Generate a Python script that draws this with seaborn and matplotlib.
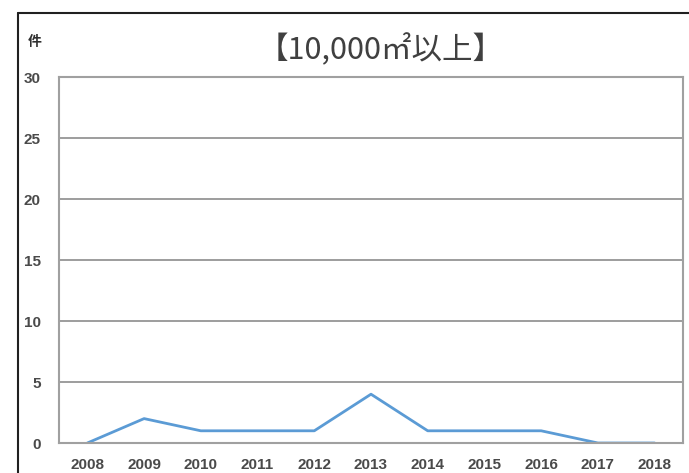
import pandas as pd
import matplotlib.pyplot as plt
import seaborn as sns
from matplotlib.lines import Line2D

# data
years = ["2008", "2009", "2010", "2011", "2012", "2013", "2014", "2015", "2016", "2017", "2018"]
counts = [0, 2, 1, 1, 1, 4, 1, 1, 1, 0, 0]
y_ticks = [0, 5, 10, 15, 20, 25, 30]

df = pd.DataFrame({"year": years, "count": counts})

sns.set_style("white")
plt.rcParams["font.family"] = ["Noto Sans CJK JP", "DejaVu Sans"]

fig = plt.figure(figsize=(6.89, 4.73), dpi=100)
ax = fig.add_axes([59 / 689, 30 / 473, 624 / 689, 366 / 473])

sns.lineplot(data=df, x="year", y="count", ax=ax, color="#5B9BD5", linewidth=2.0,
             sort=False, clip_on=True)

ax.set_xlim(-0.5, len(years) - 0.5)
ax.set_ylim(0, 30)
ax.set_yticks(y_ticks)
ax.yaxis.grid(True, color="#8c8c8c", linewidth=1.2)
ax.set_axisbelow(True)
for s in ax.spines.values():
    s.set_color("#a0a0a0")
    s.set_linewidth(1.5)
ax.tick_params(length=0)
ax.tick_params(axis="x", pad=11)
ax.tick_params(axis="y", pad=13)
for lab in ax.get_xticklabels() + ax.get_yticklabels():
    lab.set_fontfamily("Liberation Sans")
    lab.set_fontweight("bold")
    lab.set_fontsize(11)
    lab.set_color("#4a4a4a")
ax.set_xlabel("")
ax.set_ylabel("")

fig.text(381 / 689, 1 - 50 / 473, "【10,000㎡以上】", ha="center", va="center",
         fontsize=22, color="#404040")
fig.text(35 / 689, 1 - 42 / 473, "件", ha="center", va="center",
         fontsize=10, color="#303030", fontweight="bold")

# outer frame of the embedded chart
fig.add_artist(Line2D([18 / 689, 18 / 689], [0, 1 - 13 / 473], color="#202020",
                      linewidth=1.5, transform=fig.transFigure))
fig.add_artist(Line2D([18 / 689, 1], [1 - 13 / 473, 1 - 13 / 473], color="#202020",
                      linewidth=1.5, transform=fig.transFigure))

fig.savefig("out.png", dpi=100)
